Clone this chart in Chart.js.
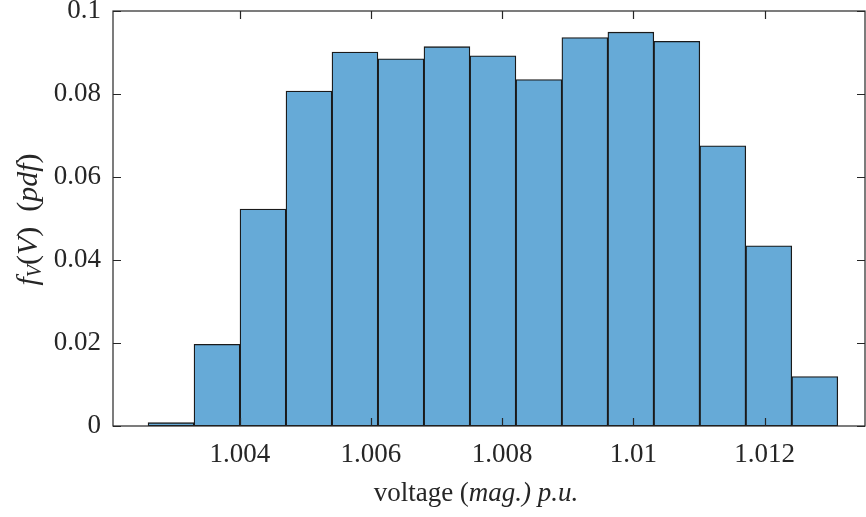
<!DOCTYPE html>
<html>
<head>
<meta charset="utf-8">
<script src="https://cdn.jsdelivr.net/npm/chart.js@4.4.1/dist/chart.umd.min.js"></script>
<style>
  html, body { margin: 0; padding: 0; background: #fff; }
  #wrap { width: 866px; height: 517px; }
</style>
</head>
<body>
<div id="wrap"><canvas id="chart"></canvas></div>
<script>
// bin centres (p.u.) and pdf heights
const binCenters = [1.002952, 1.003653, 1.004354, 1.005055, 1.005756, 1.006457, 1.007158,
    1.007859, 1.008560, 1.009260, 1.009961, 1.010662, 1.011363, 1.012064, 1.012765];
const pdfValues = [0.0008, 0.0197, 0.0523, 0.0807, 0.0901, 0.0885, 0.0914,
    0.0892, 0.0835, 0.0936, 0.0949, 0.0927, 0.0675, 0.0434, 0.0119];

const xTicks = [1.004, 1.006, 1.008, 1.010, 1.012];
const xTickLabels = ['1.004', '1.006', '1.008', '1.01', '1.012'];
const yTicks = [0, 0.02, 0.04, 0.06, 0.08, 0.1];
const yTickLabels = ['0', '0.02', '0.04', '0.06', '0.08', '0.1'];

const axisColor = '#262626';
const serif = "'Liberation Serif', 'Times New Roman', serif";

function drawRuns(ctx, runs, cx, cy) {
    // runs: [text, italic, size, dy]
    let total = 0;
    runs.forEach(r => {
        ctx.font = (r[1] ? 'italic ' : '') + r[2] + 'px ' + serif;
        r.w = ctx.measureText(r[0]).width;
        total += r.w;
    });
    let x = cx - total / 2;
    runs.forEach(r => {
        ctx.font = (r[1] ? 'italic ' : '') + r[2] + 'px ' + serif;
        ctx.fillText(r[0], x, cy + (r[3] || 0));
        x += r.w;
    });
}

const boxPlugin = {
    id: 'matlabBox',
    afterDatasetsDraw(chart) {
        const ctx = chart.ctx;
        const a = chart.chartArea;
        const xs = chart.scales.x, ys = chart.scales.y;
        ctx.save();
        ctx.strokeStyle = axisColor;
        ctx.lineWidth = 1.2;
        ctx.strokeRect(a.left, a.top, a.right - a.left, a.bottom - a.top);
        const tl = 8;
        ctx.beginPath();
        xTicks.forEach(v => {
            const px = Math.round(xs.getPixelForValue(v)) + 0.5;
            ctx.moveTo(px, a.bottom); ctx.lineTo(px, a.bottom - tl);
            ctx.moveTo(px, a.top); ctx.lineTo(px, a.top + tl);
        });
        yTicks.forEach(v => {
            const py = Math.round(ys.getPixelForValue(v)) + 0.5;
            ctx.moveTo(a.left, py); ctx.lineTo(a.left + tl, py);
            ctx.moveTo(a.right, py); ctx.lineTo(a.right - tl, py);
        });
        ctx.stroke();

        // axis titles
        ctx.fillStyle = axisColor;
        ctx.textBaseline = 'middle';
        drawRuns(ctx, [['voltage (', false, 27], ['mag.) p.u.', true, 27]], 476, 494);

        ctx.translate(29, (a.top + a.bottom) / 2 + 1);
        ctx.rotate(-Math.PI / 2);
        drawRuns(ctx, [['f', true, 30], ['V', true, 20, 7], ['(', false, 30], ['V', true, 30],
            [')', false, 30], ['  (', false, 30], ['pdf', true, 30], [')', false, 30]], 0, 0);
        ctx.restore();
    }
};

new Chart(document.getElementById('chart'), {
    type: 'bar',
    data: {
        datasets: [{
            data: binCenters.map((c, i) => ({x: c, y: pdfValues[i]})),
            backgroundColor: '#66aad7',
            borderColor: '#1a1a1a',
            borderWidth: 1.3,
            borderSkipped: false,
            barPercentage: 1,
            categoryPercentage: 1
        }]
    },
    options: {
        responsive: true,
        maintainAspectRatio: false,
        animation: false,
        layout: {padding: {top: 11, right: 1, left: 0, bottom: 0}},
        plugins: {legend: {display: false}, tooltip: {enabled: false}},
        scales: {
            x: {
                type: 'linear',
                offset: false,
                min: 1.002068,
                max: 1.01353,
                grid: {display: false, drawTicks: false},
                border: {display: false},
                afterBuildTicks: s => { s.ticks = xTicks.map(v => ({value: v})); },
                afterFit: s => { s.height = 91; s.paddingLeft = 0; s.paddingRight = 0; },
                ticks: {
                    padding: 13,
                    color: axisColor,
                    font: {family: serif, size: 27},
                    maxRotation: 0,
                    autoSkip: false,
                    callback: v => xTickLabels[xTicks.findIndex(t => Math.abs(t - v) < 1e-9)]
                }
            },
            y: {
                min: 0,
                max: 0.1,
                grid: {display: false, drawTicks: false},
                border: {display: false},
                afterBuildTicks: s => { s.ticks = yTicks.map(v => ({value: v})); },
                afterFit: s => { s.width = 113; s.paddingTop = 0; s.paddingBottom = 0; },
                ticks: {
                    padding: 12,
                    color: axisColor,
                    font: {family: serif, size: 27},
                    callback: v => yTickLabels[yTicks.findIndex(t => Math.abs(t - v) < 1e-9)]
                }
            }
        }
    },
    plugins: [boxPlugin]
});
</script>
</body>
</html>
